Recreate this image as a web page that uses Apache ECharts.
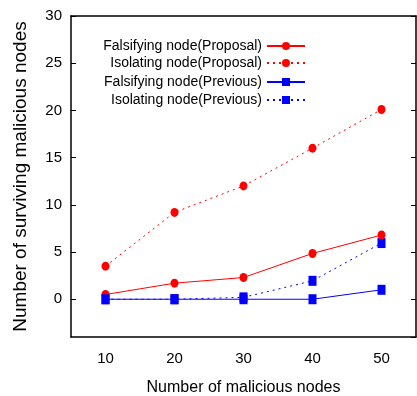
<!DOCTYPE html>
<html><head><meta charset="utf-8">
<script src="https://cdn.jsdelivr.net/npm/echarts@6/dist/echarts.min.js"></script>
<style>html,body{margin:0;padding:0;background:#fff}#c{width:417px;height:396px}</style>
</head><body><div id="c"></div>
<script>
var categories = ['10','20','30','40','50'];
var falsProposal = [0.5, 1.7, 2.3, 4.85, 6.8];
var isoProposal = [3.5, 9.2, 12.0, 16.0, 20.1];
var falsPrevious = [0, 0, 0, 0, 1.0];
var isoPrevious = [0, 0, 0.2, 1.95, 5.95];
var seriesNames = ['Falsifying node(Proposal)','Isolating node(Proposal)','Falsifying node(Previous)','Isolating node(Previous)'];

var FONT = "'Liberation Sans',Arial,sans-serif";
var chart = echarts.init(document.getElementById('c'), null, {renderer:'canvas'});
var RED = '#ff0000', BLUE = '#0000ff';
function mkSeries(name, data, color, symbol, size, dotted){
  return {name:name, type:'line', data:data, symbol:symbol, symbolSize:size,
    showAllSymbol:true, animation:false, z: dotted?2:3,
    itemStyle:{color:color},
    lineStyle:{color:color, width:1, type: dotted ? [2,4] : 'solid'}};
}
var legendTops = [39, 56, 75, 93];
var legends = seriesNames.map(function(n,i){
  return {data:[n], right:111, top:legendTops[i], align:'right', orient:'vertical',
    itemWidth:38, itemHeight:10, padding:0,
    textStyle:{fontFamily:FONT, fontSize:14, color:'#000'}};
});
chart.setOption({
  animation:false,
  grid:{left:71, top:16, right:1, bottom:59, containLabel:false, outerBoundsMode:'none'},
  legend: legends,
  xAxis:[{type:'category', data:categories, boundaryGap:true, position:'bottom',
    name:'Number of malicious nodes', nameLocation:'middle', nameGap:43,
    nameTextStyle:{fontFamily:FONT, fontSize:16, color:'#000'},
    axisLine:{onZero:false, lineStyle:{color:'#000', width:1.5}},
    axisTick:{alignWithLabel:true, inside:true, length:5, lineStyle:{color:'#000'}},
    axisLabel:{fontFamily:FONT, fontSize:15, color:'#000', margin:14},
    splitLine:{show:false}},
   {type:'category', data:categories, boundaryGap:true, position:'top',
    axisLine:{onZero:false, lineStyle:{color:'#000', width:1.5}},
    axisTick:{alignWithLabel:true, inside:true, length:5, lineStyle:{color:'#000'}},
    axisLabel:{show:false}, splitLine:{show:false}}],
  yAxis:[{type:'value', min:-4, max:30, splitNumber:7, position:'left',
    name:'Number of surviving malicious nodes', nameLocation:'middle', nameGap:41,
    nameTextStyle:{fontFamily:FONT, fontSize:19, color:'#000'},
    axisLine:{show:true, onZero:false, lineStyle:{color:'#000', width:1.5}},
    axisTick:{show:true, inside:true, length:5, lineStyle:{color:'#000'}},
    axisLabel:{fontFamily:FONT, fontSize:15, color:'#000', margin:9, showMinLabel:false,
      formatter:function(v){return v < 0 ? '' : String(v);}},
    splitLine:{show:false}},
   {type:'value', min:-4, max:30, splitNumber:7, position:'right',
    axisLine:{show:true, onZero:false, lineStyle:{color:'#000', width:1.5}},
    axisTick:{show:true, inside:true, length:5, lineStyle:{color:'#000'}},
    axisLabel:{show:false}, splitLine:{show:false}}],
  series:[
    mkSeries(seriesNames[0], falsProposal, RED, 'circle', [8,9], false),
    mkSeries(seriesNames[1], isoProposal, RED, 'circle', [8,9], true),
    mkSeries(seriesNames[2], falsPrevious, BLUE, 'rect', [8,10], false),
    mkSeries(seriesNames[3], isoPrevious, BLUE, 'rect', [8,10], true)
  ]
});
</script></body></html>
